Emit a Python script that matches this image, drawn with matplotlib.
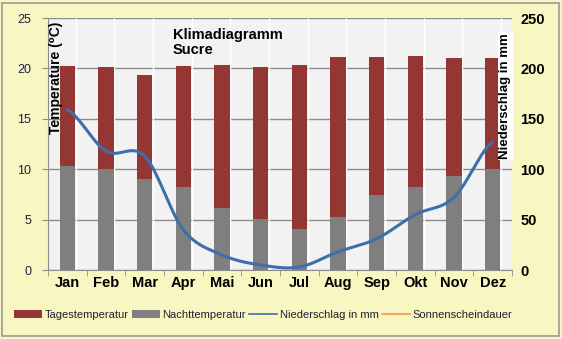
import numpy as np
import matplotlib
matplotlib.use('Agg')
import matplotlib.pyplot as plt
from matplotlib.patches import Patch, Rectangle
from matplotlib.lines import Line2D

plt.rcParams['font.family'] = ['Liberation Sans', 'DejaVu Sans']

# Klimadiagramm Sucre
months = ['Jan', 'Feb', 'Mar', 'Apr', 'Mai', 'Jun', 'Jul', 'Aug', 'Sep', 'Okt', 'Nov', 'Dez']
tages_temp = [20.2, 20.1, 19.3, 20.2, 20.3, 20.1, 20.3, 21.1, 21.1, 21.2, 21.0, 21.0]
nacht_temp = [10.3, 10.0, 9.0, 8.2, 6.2, 5.1, 4.1, 5.3, 7.4, 8.2, 9.3, 10.0]
niederschlag = [159, 118, 113, 40, 15, 5, 3, 18, 31, 55, 72, 127]
temp_ticks = [0, 5, 10, 15, 20, 25]
mm_ticks = [0, 50, 100, 150, 200, 250]

c_red = '#943634'
c_grey = '#7f7f7f'
c_blue = '#3d6fab'
c_orange = '#f79646'
c_bg = '#f9f7c1'


def smooth(xs, ys, n=20):
    # catmull-rom, roughly what excel does for "smoothed line"
    xs = np.asarray(xs, float)
    ys = np.asarray(ys, float)
    px = np.concatenate([[2*xs[0]-xs[1]], xs, [2*xs[-1]-xs[-2]]])
    py = np.concatenate([[ys[0]], ys, [ys[-1]]])
    outx, outy = [], []
    for i in range(1, len(px)-2):
        t = np.linspace(0, 1, n, endpoint=False)
        for p, out in ((px, outx), (py, outy)):
            p0, p1, p2, p3 = p[i-1], p[i], p[i+1], p[i+2]
            out.extend(0.5*((2*p1) + (-p0+p2)*t + (2*p0-5*p1+4*p2-p3)*t**2 + (-p0+3*p1-3*p2+p3)*t**3))
    outx.append(xs[-1])
    outy.append(ys[-1])
    return np.array(outx), np.array(outy)


fig = plt.figure(figsize=(5.62, 3.39), dpi=100)
fig.patch.set_facecolor(c_bg)
fig.patches.append(Rectangle((0.004, 0.008), 0.991, 0.984, transform=fig.transFigure,
                             fill=False, edgecolor='#9a9a9a', linewidth=1.2))

ax = fig.add_axes([0.0854, 0.2035, 0.8256, 0.7434])
ax.set_facecolor('#f2f2f2')
x = np.arange(len(months))

ax.bar(x, tages_temp, width=0.39, color=c_red, zorder=3)
ax.bar(x, nacht_temp, width=0.39, color=c_grey, zorder=4)
ax.vlines(x + 0.215, 0, 25, color='white', linewidth=1.0, zorder=2)

ax.set_xlim(-0.5, len(months) - 0.5)
ax.set_ylim(0, 25)
ax.set_yticks(temp_ticks)
ax.set_yticklabels([str(t) for t in temp_ticks], fontsize=9, color='#202040')
ax.yaxis.grid(True, color='#8c8c8c', linewidth=1.0, zorder=1)
ax.set_axisbelow(True)
ax.set_xticks(x)
ax.set_xticklabels(months, fontsize=10.5, fontweight='bold')
ax.set_xticks(np.arange(-0.5, len(months)), minor=True)
ax.tick_params(axis='x', which='major', length=0, pad=4)
ax.tick_params(axis='x', which='minor', length=4, color='#8c8c8c')
ax.tick_params(axis='y', length=4, color='#8c8c8c', pad=8)
for s in ['top', 'right']:
    ax.spines[s].set_visible(False)
ax.spines['left'].set_color('#8c8c8c')
ax.spines['bottom'].set_color('#8c8c8c')

ax2 = ax.twinx()
sx, sy = smooth(x, niederschlag)
ax2.plot(sx, sy, color=c_blue, linewidth=2.2, solid_capstyle='round', zorder=5)
ax2.set_ylim(0, 250)
ax2.set_yticks(mm_ticks)
ax2.set_yticklabels([str(t) for t in mm_ticks], fontsize=10.5, fontweight='bold')
ax2.tick_params(axis='y', length=0, pad=6)
for s in ax2.spines.values():
    s.set_visible(False)

ax.text(0.017, 0.985, 'Temperature (\u2070C)', transform=ax.transAxes, rotation=90,
        ha='center', va='top', fontsize=10, fontweight='bold', zorder=6)
ax2.text(0.986, 0.69, 'Niederschlag in mm', transform=ax.transAxes, rotation=90,
         ha='center', va='center', fontsize=9.5, fontweight='bold', zorder=6,
         bbox=dict(facecolor='white', edgecolor='none', pad=1))
ax.text(0.269, 0.96, 'Klimadiagramm\nSucre', transform=ax.transAxes, ha='left', va='top',
        fontsize=10.5, fontweight='bold', linespacing=1.05, zorder=6)

handles = [Patch(facecolor=c_red), Patch(facecolor=c_grey),
           Line2D([], [], color=c_blue, linewidth=1.2),
           Line2D([], [], color=c_orange, linewidth=1.2)]
labels = ['Tagestemperatur', 'Nachttemperatur', 'Niederschlag in mm', 'Sonnenscheindauer']
fig.legend(handles, labels, loc='center', bbox_to_anchor=(0.468, 0.071), ncol=4,
           frameon=False, fontsize=8, handlelength=2.5, handleheight=0.6,
           handletextpad=0.25, columnspacing=0.3, labelcolor='#202030')

fig.savefig('out.png', dpi=100, facecolor=fig.get_facecolor())
